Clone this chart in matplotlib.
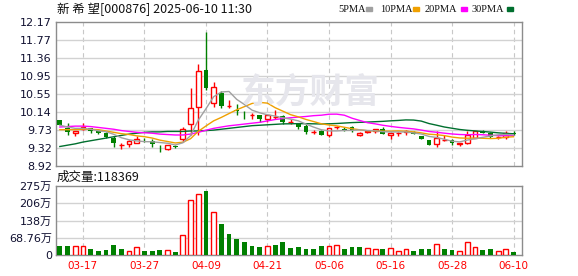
import numpy as np
import pandas as pd
import matplotlib.pyplot as plt
from matplotlib.patches import Rectangle

plt.rcParams['font.family'] = ['DejaVu Sans', 'Noto Sans CJK SC']

# trading days shown on the chart
dates = ['03-12', '03-13', '03-14', '03-17', '03-18', '03-19', '03-20', '03-21', '03-24', '03-25',
         '03-26', '03-27', '03-28', '03-31', '04-01', '04-02', '04-03', '04-07', '04-08', '04-09',
         '04-10', '04-11', '04-14', '04-15', '04-16', '04-17', '04-18', '04-21', '04-22', '04-23',
         '04-24', '04-25', '04-28', '04-29', '04-30', '05-06', '05-07', '05-08', '05-09', '05-12',
         '05-13', '05-14', '05-15', '05-16', '05-19', '05-20', '05-21', '05-22', '05-23', '05-26',
         '05-27', '05-28', '05-29', '05-30', '06-03', '06-04', '06-05', '06-06', '06-09', '06-10']
label_dates = ['03-17', '03-27', '04-09', '04-21', '05-06', '05-16', '05-28', '06-10']

# daily prices
opens = [9.96, 9.78, 9.66, 9.75, 9.77, 9.71, 9.67, 9.55, 9.40, 9.42,
         9.44, 9.51, 9.49, 9.33, 9.30, 9.38, 9.52, 9.87, 10.25, 11.09,
         10.35, 10.57, 10.28, 10.19, 10.12, 10.06, 10.07, 9.99, 10.03, 10.05,
         9.91, 9.87, 9.82, 9.69, 9.70, 9.63, 9.79, 9.76, 9.79, 9.63,
         9.68, 9.72, 9.75, 9.61, 9.67, 9.68, 9.69, 9.60, 9.50, 9.41,
         9.50, 9.50, 9.41, 9.43, 9.56, 9.71, 9.67, 9.57, 9.58, 9.66]
highs = [9.96, 9.88, 9.72, 9.88, 9.78, 9.72, 9.68, 9.60, 9.43, 9.50,
         9.59, 9.56, 9.52, 9.39, 9.40, 9.40, 9.80, 10.67, 11.22, 11.94,
         10.82, 10.61, 10.41, 10.31, 10.16, 10.12, 10.07, 10.06, 10.18, 10.08,
         9.98, 9.90, 9.86, 9.73, 9.73, 9.78, 9.83, 9.80, 9.82, 9.68,
         9.73, 9.76, 9.79, 9.67, 9.68, 9.73, 9.71, 9.60, 9.50, 9.70,
         9.62, 9.53, 9.45, 9.72, 9.71, 9.73, 9.68, 9.60, 9.70, 9.70]
lows = [9.85, 9.63, 9.60, 9.74, 9.67, 9.65, 9.56, 9.34, 9.30, 9.36,
        9.43, 9.46, 9.36, 9.23, 9.29, 9.33, 9.47, 9.62, 9.62, 10.64,
        10.26, 10.22, 10.24, 10.06, 9.98, 9.98, 9.92, 9.92, 9.98, 9.86,
        9.87, 9.75, 9.64, 9.65, 9.61, 9.58, 9.75, 9.70, 9.68, 9.60,
        9.66, 9.66, 9.64, 9.52, 9.60, 9.62, 9.64, 9.52, 9.40, 9.34,
        9.48, 9.39, 9.38, 9.42, 9.55, 9.66, 9.55, 9.53, 9.54, 9.62]
closes = [9.85, 9.68, 9.72, 9.79, 9.71, 9.67, 9.58, 9.43, 9.40, 9.48,
          9.54, 9.50, 9.41, 9.32, 9.40, 9.34, 9.75, 10.22, 11.06, 10.69,
          10.70, 10.28, 10.28, 10.17, 10.11, 10.06, 9.98, 10.06, 10.03, 9.91,
          9.91, 9.79, 9.69, 9.69, 9.61, 9.78, 9.79, 9.74, 9.70, 9.67,
          9.70, 9.76, 9.64, 9.67, 9.67, 9.70, 9.65, 9.52, 9.40, 9.55,
          9.50, 9.43, 9.44, 9.61, 9.70, 9.66, 9.58, 9.57, 9.66, 9.65]

# volume in 万, and whether each volume bar is drawn red
volumes = [36, 36, 34, 34, 24, 16, 20, 39, 24, 15,
           31, 16, 16, 20, 19, 13, 78, 218, 242, 255,
           170, 124, 84, 64, 52, 36, 32, 34, 40, 52,
           28, 32, 24, 24, 36, 35, 39, 24, 32, 32,
           28, 24, 24, 28, 16, 24, 16, 24, 24, 44,
           24, 20, 16, 52, 32, 20, 24, 16, 24, 12]
vol_up = [0, 0, 1, 1, 0, 0, 0, 0, 0, 1,
          1, 0, 0, 0, 1, 0, 1, 1, 1, 0,
          1, 0, 0, 0, 0, 0, 0, 1, 0, 0,
          0, 0, 0, 0, 0, 1, 1, 0, 0, 0,
          1, 1, 0, 1, 1, 1, 0, 0, 0, 1,
          0, 0, 1, 1, 1, 0, 0, 1, 1, 0]

# moving-average values before the window is full
ma5_head = [9.84, 9.80, 9.77, 9.77]
ma10_head = [9.74, 9.74, 9.74, 9.75, 9.75, 9.74, 9.71, 9.68, 9.65]
ma20_head = [9.80, 9.81, 9.82, 9.82, 9.81, 9.79, 9.77, 9.75, 9.72, 9.70,
             9.68, 9.67, 9.66, 9.64, 9.63, 9.62, 9.62, 9.64, 9.68]
ma30_head = [9.36, 9.39, 9.42, 9.46, 9.49, 9.52, 9.55, 9.58, 9.61, 9.64,
             9.66, 9.68, 9.69, 9.69, 9.70, 9.70, 9.70, 9.71, 9.71, 9.72,
             9.73, 9.75, 9.77, 9.79, 9.81, 9.83, 9.84, 9.85, 9.86]

price_ticks = ['8.92', '9.32', '9.73', '10.14', '10.55', '10.95', '11.36', '11.77', '12.17']
vol_ticks = ['0', '68.76万', '138万', '206万', '275万']

RED = '#ff0000'
GREEN = '#008000'
GRID = '#d2d2d2'
FRAME = '#8c8c8c'

df = pd.DataFrame({'open': opens, 'high': highs, 'low': lows, 'close': closes,
                   'vol': volumes, 'vol_up': vol_up})
x = np.arange(len(df))

mas = {}
for n, head in [(5, ma5_head), (10, ma10_head), (20, ma20_head), (30, ma30_head)]:
    ma = df['close'].rolling(n).mean().to_numpy()
    ma[:n - 1] = head
    mas[n] = ma

fig = plt.figure(figsize=(5.78, 2.76), dpi=100)
ax = fig.add_axes([56 / 578, 1 - 166 / 276, 466 / 578, 144 / 276])
axv = fig.add_axes([56 / 578, 1 - 255 / 276, 466 / 578, 69 / 276])

label_idx = [dates.index(d) for d in label_dates]

for a in (ax, axv):
    a.set_xlim(-0.5, 60.1)
    for s in a.spines.values():
        s.set_color(FRAME)
        s.set_linewidth(1)
    a.tick_params(length=0, labelsize=8, pad=3, labelcolor='#101030')
    for i in label_idx:
        a.axvline(i, color='#c8c8c8', lw=0.8, ls=(0, (4, 3)), zorder=0)

# watermark
fig.text(0.537, 0.668, '东方财富', fontsize=25, fontweight='bold', color='#e6e6ec',
         ha='center', va='center', family=['Noto Sans CJK SC'], zorder=0)

# price panel
lo, hi = float(price_ticks[0]), float(price_ticks[-1])
pt = np.linspace(lo, hi, len(price_ticks))
ax.set_ylim(lo, hi)
ax.set_yticks(pt)
ax.set_yticklabels(price_ticks)
for v in pt[1:-1]:
    ax.axhline(v, color=GRID, lw=1, zorder=0)
ax.set_xticks([])

w = 0.62
for i, r in df.iterrows():
    if r['close'] > r['open']:
        ax.vlines(i, r['low'], r['high'], color=RED, lw=1, zorder=2)
        ax.bar(i, r['close'] - r['open'], w, bottom=r['open'], facecolor='white',
               edgecolor=RED, linewidth=1, zorder=3)
    elif r['close'] < r['open']:
        ax.vlines(i, r['low'], r['high'], color=GREEN, lw=1, zorder=2)
        ax.bar(i, r['open'] - r['close'], w, bottom=r['close'], color=GREEN,
               linewidth=0, zorder=3)
    else:
        ax.vlines(i, r['low'], r['high'], color=RED, lw=1, zorder=2)
        ax.hlines(r['close'], i - w / 2, i + w / 2, color=RED, lw=1, zorder=3)

ma_colors = {5: '#a0a0a0', 10: '#f0a000', 20: '#ff00ff', 30: '#006f2e'}
for n in (30, 20, 10, 5):
    ax.plot(x, mas[n], color=ma_colors[n], lw=1, zorder=4)

# volume panel
vmax = 275
vt = np.linspace(0, vmax, len(vol_ticks))
axv.set_ylim(0, vmax)
axv.set_yticks(vt)
axv.set_yticklabels(vol_ticks)
for v in vt[1:-1]:
    axv.axhline(v, color=GRID, lw=1, zorder=0)
for i, r in df.iterrows():
    if r['vol_up']:
        axv.bar(i, r['vol'], w, facecolor='white', edgecolor=RED, linewidth=1, zorder=3)
    else:
        axv.bar(i, r['vol'], w, color=GREEN, linewidth=0, zorder=3)
axv.set_xticks(label_idx)
axv.set_xticklabels(label_dates, color=RED, fontsize=7.5)
axv.tick_params(axis='x', pad=4, labelcolor=RED)

# header texts
fig.text(57 / 578, 1 - 9 / 276, '新 希 望[000876] 2025-06-10 11:30', fontsize=9,
         va='center', ha='left', family=['Noto Sans CJK SC'], color='#111111')
fig.text(57 / 578, 1 - 177 / 276, '成交量:118369', fontsize=9,
         va='center', ha='left', family=['Noto Sans CJK SC'], color='#111111')

legend = [('5PMA', 338, 366), ('10PMA', 380, 413), ('20PMA', 425, 461), ('30PMA', 472, 507)]
for (txt, tx, sx), n in zip(legend, (5, 10, 20, 30)):
    fig.text(tx / 578, 1 - 9 / 276, txt, fontsize=7.5, va='center', ha='left',
             family=['Liberation Serif'], color='#111111')
    fig.add_artist(Rectangle((sx / 578, 1 - 11 / 276), 6 / 578, 4 / 276,
                             transform=fig.transFigure, color=ma_colors[n]))

plt.savefig('out.png', dpi=100)
